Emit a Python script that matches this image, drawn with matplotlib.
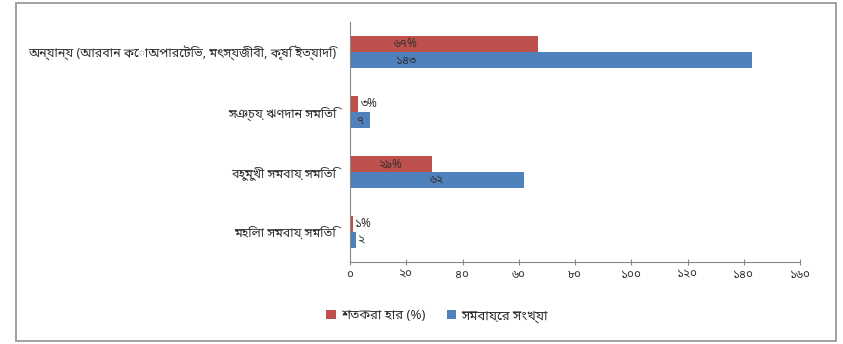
import numpy as np
import matplotlib
matplotlib.use("Agg")
import matplotlib.pyplot as plt
from matplotlib import font_manager

# Bengali-capable families first, DejaVu as fallback for the rest
names = {f.name for f in font_manager.fontManager.ttflist}
fams = [f for f in ["Noto Sans Bengali", "Noto Serif Bengali", "Lohit Bengali",
                    "Mukti", "FreeSans", "Noto Sans"] if f in names] + ["DejaVu Sans"]
plt.rcParams['font.family'] = fams

# categories listed bottom to top
categories = ["মহিলা সমবায় সমিতি",
              "বহুমুখী সমবায় সমিতি",
              "সঞ্চয় ঋণদান সমিতি",
              "অন্যান্য (আরবান কোঅপারেটিভ, মৎস্যজীবী, কৃষি ইত্যাদি)"]
percent = [1, 29, 3, 67]
count = [2, 62, 7, 143]
percent_lbl = ["১%", "২৯%", "৩%", "৬৭%"]
count_lbl = ["২", "৬২", "৭", "১৪৩"]
xticks = [0, 20, 40, 60, 80, 100, 120, 140, 160]
xtick_lbl = ["০", "২০", "৪০", "৬০", "৮০", "১০০", "১২০", "১৪০", "১৬০"]
legend_lbl = ["শতকরা হার (%)", "সমবায়ের সংখ্যা"]

red = "#C0504D"
blue = "#4F81BD"
txt_col = "#303030"

fig = plt.figure(figsize=(8.43, 3.44), dpi=100)
ax = fig.add_axes([350/843, 1-262/344, 450/843, 240/344])

y = np.arange(len(categories))
h = 0.27
ax.barh(y + h/2, percent, height=h, color=red, label=legend_lbl[0])
ax.barh(y - h/2, count, height=h, color=blue, label=legend_lbl[1])

def put_label(v, yy, txt, top):
    if v < 5:
        ax.text(v + 0.8, yy, txt, ha="left", va="center", fontsize=8.5, color=txt_col)
    else:
        xx = 20 if top else v / 2
        ax.text(xx, yy, txt, ha="center", va="center", fontsize=8.5, color=txt_col)

for i in range(len(categories)):
    top = i == len(categories) - 1
    put_label(percent[i], y[i] + h/2, percent_lbl[i], top)
    put_label(count[i], y[i] - h/2, count_lbl[i], top)

ax.set_xlim(0, 160)
ax.set_ylim(-0.5, len(categories) - 0.5)
ax.set_xticks(xticks)
ax.set_xticklabels(xtick_lbl, fontsize=8.5, color=txt_col)
ax.set_yticks(y)
ax.set_yticklabels(categories, fontsize=9, color=txt_col)
ax.tick_params(axis="y", length=0, pad=10)
ax.tick_params(axis="x", length=4, direction="inout", color="#888888", pad=2)
for s in ["top", "right"]:
    ax.spines[s].set_visible(False)
ax.spines["left"].set_color("#888888")
ax.spines["bottom"].set_color("#888888")

fig.legend(loc="center", bbox_to_anchor=(437/843, 1-316/344), ncol=2, frameon=False,
           fontsize=9.5, handlelength=0.7, handleheight=0.7, columnspacing=1.6,
           handletextpad=0.4, labelcolor=txt_col)

# outer chart border
fig.patches.append(plt.Rectangle((16/843, 3/344), 820/843, 338/344, transform=fig.transFigure,
                                 fill=False, edgecolor="#9a9a9a", linewidth=1.3))

fig.savefig("out.png", dpi=100)
